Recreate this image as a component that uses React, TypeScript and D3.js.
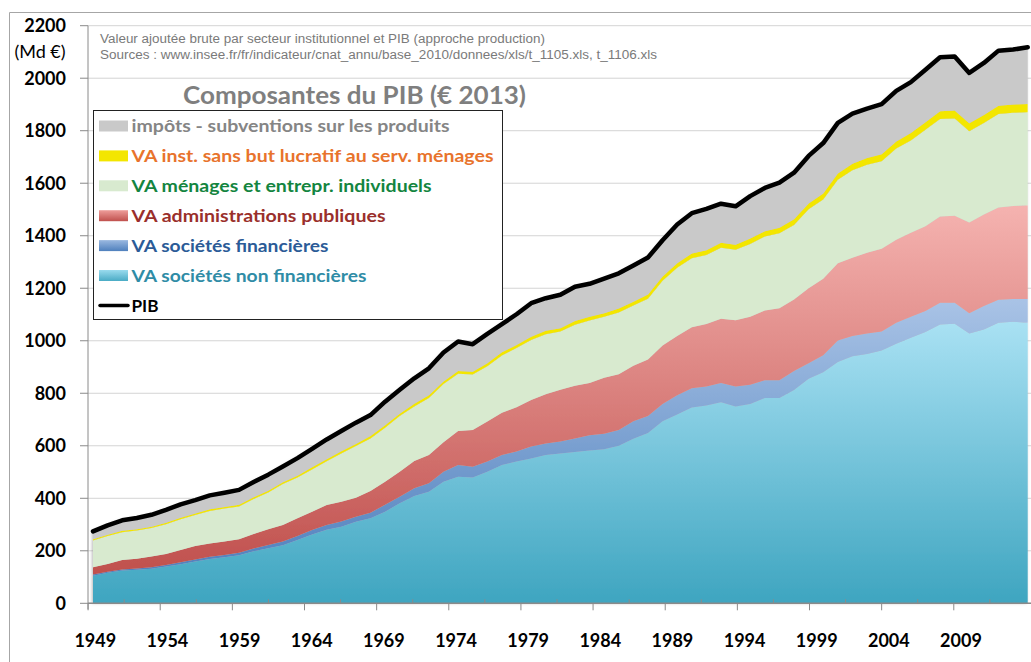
import React from "react";
import * as d3 from "d3";

// categories
const years = d3.range(1949, 2014);

// valeurs ajoutées (Md € 2013)
const vaSnf = [105, 116, 125, 128, 132, 140, 149, 159, 169, 175, 183,
  198, 210, 221, 241, 262, 280, 292, 311, 324, 349,
  381, 409, 425, 463, 482, 479, 501, 527, 540, 552,
  565, 571, 576, 582, 587, 600, 627, 649, 693, 719,
  746, 753, 766, 750, 759, 782, 782, 812, 855, 880,
  919, 941, 950, 963, 989, 1011, 1033, 1062, 1065, 1028,
  1043, 1069, 1072, 1069];
const vaSf = [5, 4, 4, 5, 5, 6, 7, 8, 8, 9, 10,
  11, 12, 14, 15, 17, 18, 20, 19, 21, 26,
  25, 29, 32, 38, 45, 41, 39, 38, 38, 45,
  44, 45, 52, 58, 59, 60, 66, 64, 66, 73,
  73, 73, 73, 76, 73, 68, 68, 73, 59, 65,
  82, 77, 78, 72, 80, 80, 80, 83, 80, 77,
  89, 87, 87, 90];
const vaApu = [27, 30, 36, 37, 41, 42, 47, 51, 51, 51, 51,
  55, 60, 63, 68, 70, 76, 75, 72, 83, 88,
  95, 104, 108, 112, 129, 140, 152, 161, 169, 177,
  187, 197, 201, 199, 213, 212, 212, 216, 223, 226,
  232, 238, 245, 252, 259, 265, 274, 272, 286, 291,
  294, 298, 307, 315, 316, 320, 323, 328, 331, 345,
  349, 352, 354, 357];
const vaMenages = [102, 106, 106, 107, 109, 113, 117, 118, 124, 126, 125,
  133, 140, 156, 155, 161, 167, 184, 197, 200, 206,
  212, 208, 217, 222, 218, 211, 211, 218, 225, 229,
  229, 222, 232, 238, 232, 236, 229, 231, 247, 260,
  263, 263, 270, 269, 278, 282, 285, 284, 301, 302,
  318, 333, 335, 334, 347, 352, 368, 372, 371, 348,
  348, 356, 355, 354];
const vaIsbl = [5, 5, 5, 5, 5, 6, 6, 6, 6, 6, 6,
  7, 7, 7, 7, 8, 8, 8, 8, 9, 9,
  9, 10, 10, 10, 11, 11, 11, 12, 12, 12,
  13, 13, 14, 14, 14, 15, 15, 16, 16, 17,
  18, 18, 19, 19, 20, 20, 21, 22, 22, 23,
  24, 25, 26, 26, 27, 28, 28, 29, 30, 30,
  31, 31, 32, 32];
const impots = [30, 36, 40, 43, 45, 49, 51, 51, 53, 54, 57,
  58, 61, 60, 67, 70, 75, 77, 81, 80, 90,
  91, 97, 103, 110, 112, 105, 112, 107, 117, 128,
  124, 127, 131, 126, 132, 134, 138, 141, 138, 148,
  154, 157, 149, 146, 162, 165, 172, 177, 181, 192,
  193, 191, 188, 191, 193, 194, 200, 206, 206, 192,
  198, 210, 209, 216];
const pib = [274, 297, 316, 325, 337, 356, 377, 393, 411, 421, 432,
  462, 490, 521, 553, 588, 624, 656, 688, 717, 768,
  813, 857, 895, 955, 997, 987, 1026, 1063, 1101, 1143,
  1162, 1175, 1206, 1217, 1237, 1257, 1287, 1317, 1383, 1443,
  1486, 1502, 1522, 1512, 1551, 1582, 1602, 1640, 1704, 1753,
  1830, 1865, 1884, 1901, 1952, 1985, 2032, 2080, 2083, 2020,
  2058, 2105, 2109, 2118];

// axes
const yTicks = [0, 200, 400, 600, 800, 1000, 1200, 1400, 1600, 1800, 2000, 2200];
const xLabelYears = [1949, 1954, 1959, 1964, 1969, 1974, 1979, 1984, 1989, 1994, 1999, 2004, 2009];

const keys = ["snf", "sf", "apu", "men", "isb", "imp"];
const fills = {
  snf: "url(#gTeal)",
  sf: "url(#gBlue)",
  apu: "url(#gRed)",
  men: "#d8eacf",
  isb: "#f3e600",
  imp: "#c9c9c9",
};

const legendItems = [
  { label: "impôts - subventions sur les produits", color: "#858585", fill: "#c9c9c9", w: 318 },
  { label: "VA inst. sans but lucratif au serv. ménages", color: "#e8732c", fill: "#f3e600", w: 362 },
  { label: "VA ménages et entrepr. individuels", color: "#13853f", fill: "#d8eacf", w: 300 },
  { label: "VA administrations publiques", color: "#9a2f2b", fill: "url(#gRedL)", w: 254 },
  { label: "VA sociétés financières", color: "#2b5b97", fill: "url(#gBlueL)", w: 197 },
  { label: "VA sociétés non financières", color: "#2f8ca6", fill: "url(#gTealL)", w: 235 },
  { label: "PIB", color: "#000", fill: null, w: 27 },
];

const FONT = "Lato, 'Open Sans', sans-serif";

export default function App() {
  const table = years.map((year, i) => ({
    year,
    snf: vaSnf[i],
    sf: vaSf[i],
    apu: vaApu[i],
    men: vaMenages[i],
    isb: vaIsbl[i],
    imp: impots[i],
  }));
  const series = d3.stack().keys(keys)(table);

  const x = d3.scaleLinear().domain([1949, 2013]).range([93, 1027.7]);
  const xAxis = d3.scaleLinear().domain([1949, 2009]).range([95.3, 961]);
  const y = d3.scaleLinear().domain([0, 2200]).range([603.3, 25.7]);

  const area = d3.area()
    .x((d) => x(d.data.year))
    .y0((d) => y(d[0]))
    .y1((d) => y(d[1]));
  const line = d3.line()
    .x((d, i) => x(years[i]))
    .y((d) => y(d));

  const plotLeft = 88;
  const plotRight = 1031;

  return (
    <svg width={1031} height={662} style={{ position: "absolute", left: 0, top: 0, background: "#fff" }}>
      <defs>
        <linearGradient id="gTeal" x1="0" y1="0" x2="0" y2="1">
          <stop offset="0" stopColor="#a9e1f3" />
          <stop offset="1" stopColor="#3ea5c0" />
        </linearGradient>
        <linearGradient id="gBlue" x1="0" y1="0" x2="0" y2="1">
          <stop offset="0" stopColor="#a9c3e6" />
          <stop offset="1" stopColor="#4f80bd" />
        </linearGradient>
        <linearGradient id="gRed" x1="0" y1="0" x2="0" y2="1">
          <stop offset="0" stopColor="#f5b3b0" />
          <stop offset="1" stopColor="#c0504d" />
        </linearGradient>
        <linearGradient id="gTealL" x1="0" y1="0" x2="0" y2="1">
          <stop offset="0" stopColor="#9adbee" />
          <stop offset="1" stopColor="#4aabc5" />
        </linearGradient>
        <linearGradient id="gBlueL" x1="0" y1="0" x2="0" y2="1">
          <stop offset="0" stopColor="#9ab8e0" />
          <stop offset="1" stopColor="#4f80bd" />
        </linearGradient>
        <linearGradient id="gRedL" x1="0" y1="0" x2="0" y2="1">
          <stop offset="0" stopColor="#ee9d9a" />
          <stop offset="1" stopColor="#c0504d" />
        </linearGradient>
        <filter id="shadow" x="-5%" y="-5%" width="110%" height="110%">
          <feDropShadow dx="-1" dy="0" stdDeviation="1.8" floodColor="#808080" floodOpacity="0.55" />
        </filter>
      </defs>

      {/* chart frame */}
      <path d="M9.5,662 V12.5 H1031" fill="none" stroke="#a6a6a6" strokeWidth={1} />

      {/* gridlines */}
      {yTicks.map((t) => (
        <line key={t} x1={plotLeft} x2={plotRight} y1={y(t)} y2={y(t)} stroke="#d4d4d4" strokeWidth={1} />
      ))}

      {/* stacked areas */}
      <g filter="url(#shadow)">
        {series.map((s) => (
          <path key={s.key} d={area(s)} fill={fills[s.key]} />
        ))}
      </g>

      {/* PIB */}
      <path d={line(pib)} fill="none" stroke="#000" strokeWidth={4.5} strokeLinejoin="round" strokeLinecap="round" />

      {/* y axis */}
      <line x1={plotLeft} x2={plotLeft} y1={y(2200)} y2={y(0) + 6} stroke="#8a8a8a" strokeWidth={1} />
      {yTicks.map((t) => (
        <g key={t}>
          <line x1={80} x2={plotLeft} y1={y(t)} y2={y(t)} stroke="#8a8a8a" strokeWidth={1} />
          <text x={66} y={y(t)} dy="0.36em" textAnchor="end" fontFamily={FONT} fontWeight="bold" fontSize={18} fill="#000">
            {t}
          </text>
        </g>
      ))}
      <text x={40} y={52} dy="0.36em" textAnchor="middle" fontFamily={FONT} fontSize={18} fill="#000">
        (Md €)
      </text>

      {/* x axis */}
      <line x1={plotLeft} x2={plotRight} y1={y(0)} y2={y(0)} stroke="#8a8a8a" strokeWidth={1.5} />
      {xLabelYears.map((yr) => (
        <g key={yr}>
          <line x1={xAxis(yr - 0.5)} x2={xAxis(yr - 0.5)} y1={y(0)} y2={y(0) + 7} stroke="#8a8a8a" strokeWidth={1} />
          <line x1={xAxis(yr + 2)} x2={xAxis(yr + 2)} y1={y(0) - 4} y2={y(0)} stroke="#8a8a8a" strokeWidth={1} />
          <text x={xAxis(yr)} y={641} dy="0.36em" textAnchor="middle" fontFamily={FONT} fontWeight="bold" fontSize={18} fill="#000">
            {yr}
          </text>
        </g>
      ))}

      {/* source note */}
      <text x={100} y={38} dy="0.36em" fontFamily="'Liberation Sans', Arial, sans-serif" fontSize={12.5} fill="#7a7a7a" textLength={445} lengthAdjust="spacingAndGlyphs">
        Valeur ajoutée brute par secteur institutionnel et PIB (approche production)
      </text>
      <text x={100} y={54} dy="0.36em" fontFamily="'Liberation Sans', Arial, sans-serif" fontSize={12.5} fill="#7a7a7a" textLength={557} lengthAdjust="spacingAndGlyphs">
        Sources : www.insee.fr/fr/indicateur/cnat_annu/base_2010/donnees/xls/t_1105.xls, t_1106.xls
      </text>

      {/* title */}
      <text x={183} y={95} dy="0.36em" fontFamily={FONT} fontWeight="bold" fontSize={25} fill="#7f7f7f" textLength={343} lengthAdjust="spacingAndGlyphs">
        Composantes du PIB (€ 2013)
      </text>

      {/* legend */}
      <rect x={93.5} y={110.5} width={409} height={209} fill="#fff" stroke="#222" strokeWidth={1} />
      {legendItems.map((it, i) => {
        const cy = 126 + i * 29.9;
        return (
          <g key={it.label}>
            {it.fill ? (
              <rect x={99} y={cy - 5.5} width={29} height={11} fill={it.fill} />
            ) : (
              <line x1={100} x2={128} y1={cy} y2={cy} stroke="#000" strokeWidth={3.5} strokeLinecap="round" />
            )}
            <text x={131.5} y={cy} dy="0.36em" fontFamily={FONT} fontWeight="bold" fontSize={17} fill={it.color} textLength={it.w} lengthAdjust="spacingAndGlyphs">
              {it.label}
            </text>
          </g>
        );
      })}
    </svg>
  );
}
